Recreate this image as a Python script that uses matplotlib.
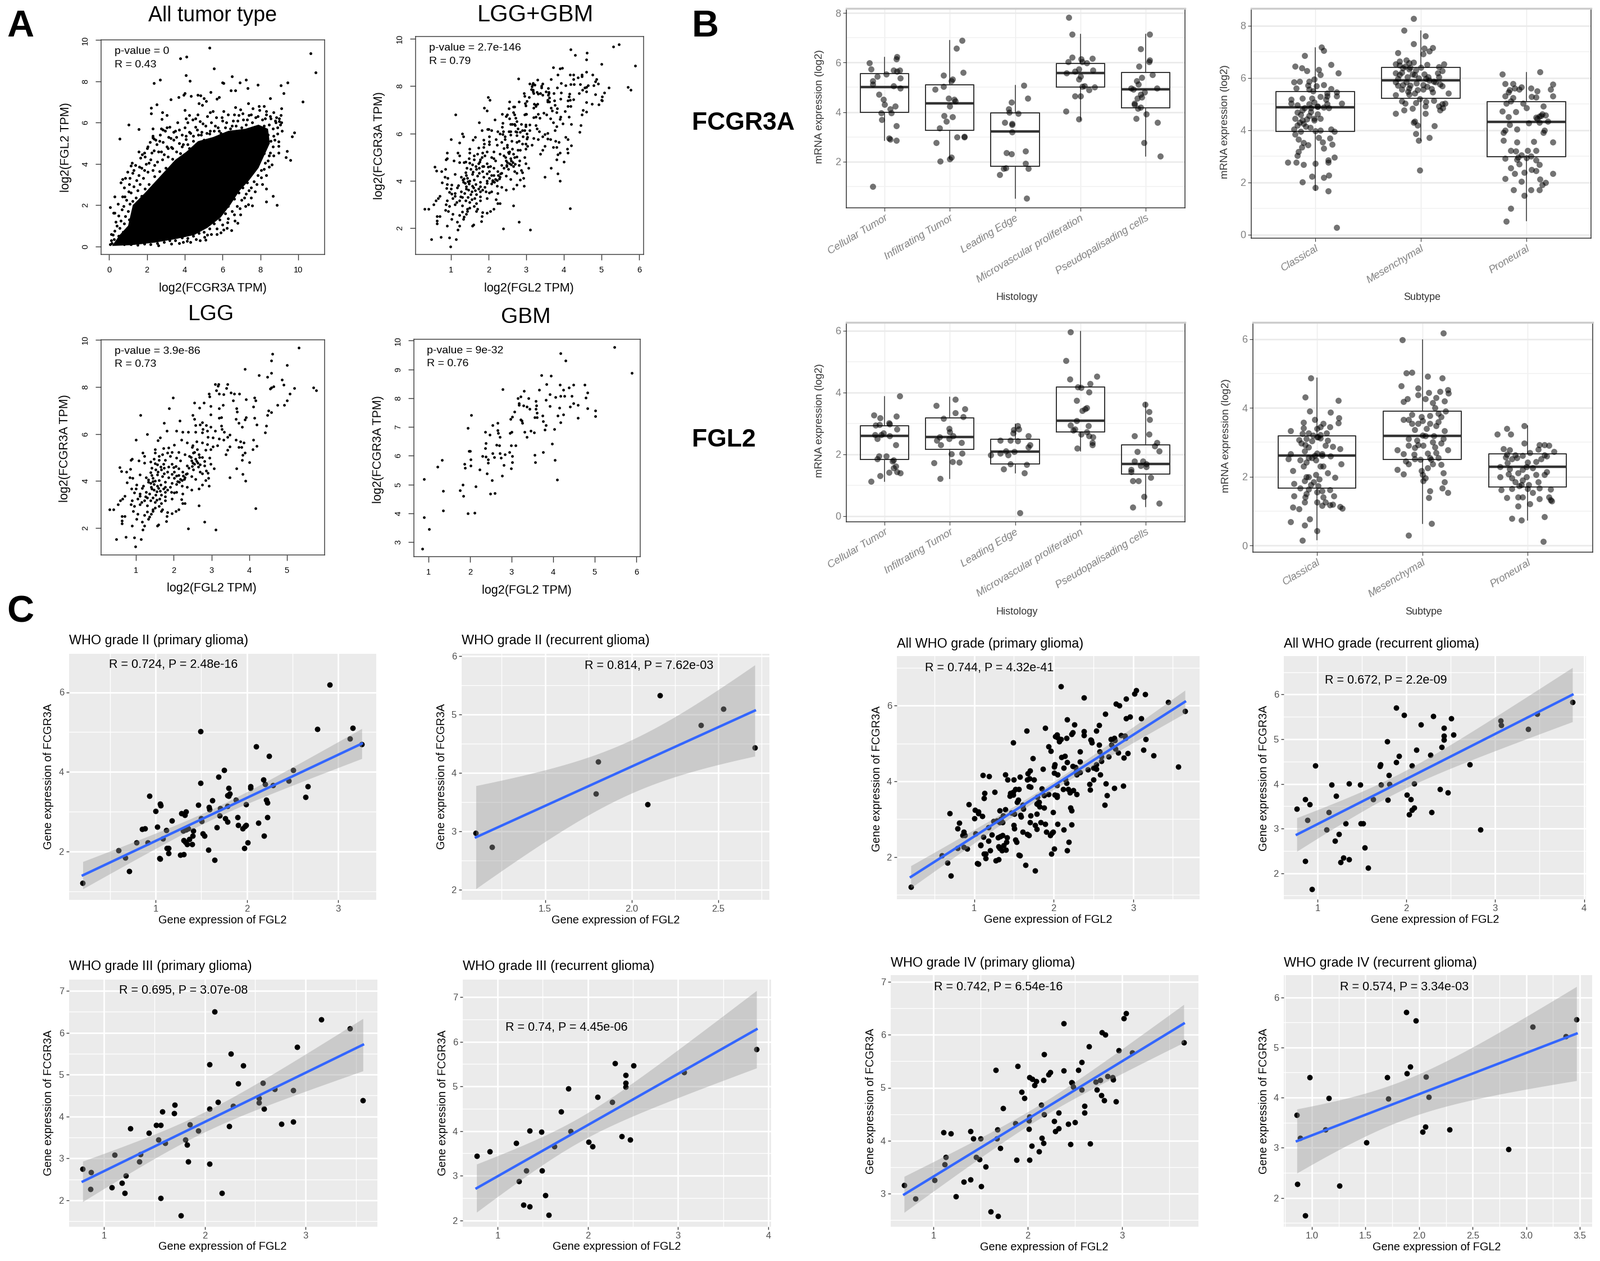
import numpy as np
import matplotlib
matplotlib.use('Agg')
import matplotlib.pyplot as plt
from matplotlib.ticker import MultipleLocator

plt.rcParams['font.family'] = ['Liberation Sans', 'DejaVu Sans']

W, H = 2849, 2245

# --- A: GEPIA scatter values ---
tumor_solid = [(.15,.02),(.55,.55),(1.0,1.0),(1.25,2.0),(1.9,2.6),(2.4,3.1),(3.0,3.7),(3.5,4.2),(4.1,4.6),(4.7,5.1),(5.5,5.3),(6.3,5.6),(7.2,5.7),
    (7.9,5.9),(8.4,5.7),(8.5,5.0),(8.2,4.4),(7.9,3.8),(7.4,3.2),(6.9,2.7),(6.4,2.0),(5.9,1.4),(5.2,.9),(4.5,.55),(3.5,.35),(2.4,.18),(1.2,.06)]
tumor_far = [(5.3,9.63),(10.64,9.35),(10.93,8.42),(4.09,9.2),(3.77,9.12),(5.55,8.61),(4.05,8.29),(4.27,8.03),(2.7,8.09),(2.36,7.91),
    (6.48,8.24),(5.98,7.95),(6.05,7.91),(6.91,7.94),(7.23,8.07),(7.34,7.68),(7.86,7.82),(9.09,7.8),(9.45,7.94),(9.23,7.42),(10.23,7.01),
    (8.5,7.18),(6.43,7.57),(6.66,7.57),(5.36,7.49),(4.0,7.42),(3.95,7.35),(4.68,7.33),(4.84,7.32),(4.34,7.3),(3.66,7.22),(3.27,7.13),
    (5.0,7.18),(5.14,7.03),(5.7,7.16),(5.82,7.23),(4.73,6.92),(4.91,6.84),(2.52,6.89),(2.23,6.71),(2.23,6.45),(2.82,6.5),(3.05,6.35),
    (2.77,6.16),(1.02,5.9),(1.57,5.67),(.55,5.23),(2.32,5.72),(2.3,5.28),(2.36,5.23),(2.75,5.72),(4.0,6.6),(4.05,6.21),(4.23,6.35),
    (4.68,6.4),(5.48,6.55),(6.05,6.55),(6.68,6.74),(6.95,6.64),(7.36,6.94),(7.59,6.69),(7.93,6.79),(8.2,6.79),(8.32,6.55),(9.11,6.69),
    (9.07,6.35),(9.0,6.2),(8.77,6.1),(9.11,6.01),(9.8,5.53),(9.68,5.33),(8.95,5.09),(8.95,4.86),(8.95,4.55),(9.41,4.63),(9.34,4.33),
    (9.59,4.19),(8.59,3.97),(8.5,4.55),(8.32,2.8),(8.66,2.43),(8.32,2.17),(8.86,2.01),(7.57,1.98),(7.36,2.02),(6.8,1.13),(6.45,.78),
    (5.89,.66),(5.09,.32),(4.11,.27),(6.23,.9)]
tumor_edge = [(.05,.1),(.1,.3),(.15,.15),(.2,.55),(.25,.35),(.3,.75),(.12,.6),(.35,1.2),(.28,1.62),(.4,1.0),(.48,.5),(.55,.9),(.6,1.25),
    (.5,1.5),(.68,1.78),(.62,.35),(.72,.7),(.8,1.1),(.75,1.95),(.85,1.45),(.92,2.25),(.95,.85),(1.05,1.3),(1.0,1.7),(.7,2.4),(.78,2.85),
    (.82,2.42),(1.1,2.05),(1.2,1.55),(1.15,2.6),(1.25,2.2),(1.02,2.65),(1.35,1.75),(1.3,2.9),(1.4,2.35),(1.05,3.0),(1.45,3.2),(1.25,3.55),
    (1.5,2.7),(1.55,3.45),(1.38,3.95),(1.62,3.0),(1.7,3.8),(1.72,2.45),(1.65,4.3),(1.8,3.3),(1.9,2.8),(1.95,4.0),(1.85,4.55),(2.05,3.6),
    (2.1,3.0),(2.0,4.75),(2.2,4.2),(2.15,5.05),(2.3,3.7),(2.35,4.65),(2.4,3.4),(2.3,5.35),(2.55,4.1),(2.5,4.95),(2.65,3.65),(2.7,5.4),
    (2.75,4.6),(2.8,4.2),(2.85,5.05),(2.95,5.6),(3.0,3.8),(3.05,4.85),(3.1,4.35),(3.15,5.3),(3.2,5.8),(3.3,4.8),(3.35,4.25),(3.4,5.15),
    (3.5,5.6),(3.55,4.6),(3.6,6.0),(3.7,5.0),(3.75,4.5),(3.85,5.4),(3.9,4.95),(4.0,5.75),(4.05,5.2),(4.15,6.0),(4.25,4.75),(4.3,5.5),
    (4.4,6.15),(4.45,5.1),(4.55,5.8),(4.6,4.95),(4.7,5.4),(4.8,6.05),(4.9,5.55),(5.0,5.15),(5.1,5.85),(5.2,6.3),(5.3,5.45),(5.4,6.0),
    (5.55,5.6),(5.65,6.25),(5.75,5.75),(5.9,5.5),(6.0,6.1),(6.15,5.75),(6.3,6.4),(6.4,5.7),(6.55,6.1),(6.7,5.85),(6.85,6.35),(7.0,5.75),
    (7.1,6.15),(7.25,5.9),(7.4,6.35),(7.55,6.0),(7.7,5.8),(7.85,6.3),(8.0,5.75),(8.1,6.15),(8.2,5.85),(8.3,6.4),(8.45,5.9),(8.55,6.2),
    (8.65,5.7),(8.8,6.0),(8.9,5.75),(9.0,6.05),(8.4,5.4),(8.55,5.1),(8.3,4.85),(8.7,5.35),(8.2,4.5),(8.0,4.9),(8.45,4.4),(7.95,4.2),
    (8.25,4.05),(7.8,3.95),(8.05,3.7),(7.6,3.75),(7.85,3.45),(7.4,3.45),(7.65,3.15),(7.3,3.1),(7.5,2.85),(7.05,2.85),(7.25,2.55),(6.85,2.6),
    (7.0,2.25),(6.6,2.3),(6.75,1.95),(6.3,1.95),(6.5,1.7),(6.15,1.6),(6.3,1.35),(5.85,1.3),(6.0,1.05),(5.55,1.1),(5.7,.85),(5.3,.85),
    (5.0,.7),(5.2,.55),(4.75,.65),(4.45,.5),(4.6,.35),(4.15,.4),(3.85,.42),(3.9,.2),(3.5,.3),(3.2,.28),(3.3,.12),(2.9,.22),(2.55,.15),
    (2.2,.1),(1.85,.12),(1.5,.08),(1.15,.1),(.8,.1)]
tumor_outer = [(.05,1.9),(.22,1.62),(.3,2.42),(.45,2.05),(.6,3.1),(.7,3.25),(.85,3.3),(.98,3.6),(1.2,4.05),(1.15,3.9),(1.3,3.7),(1.1,3.3),(1.55,4.6),
    (1.75,4.45),(1.6,3.85),(1.85,3.7),(1.9,4.35),(2.05,4.85),(2.25,4.55),(2.1,4.05),(2.4,3.95),(2.6,4.6),(2.45,5.15),(2.65,5.1),(2.9,4.45),(3.1,4.75),
    (2.85,5.65),(3.05,5.75),(3.25,5.25),(3.4,5.55),(3.35,4.75),(3.55,5.3),(3.7,5.65),(3.85,4.85),(4.05,5.35),(4.15,4.95),(4.25,5.55),(4.45,5.35),(4.55,6.2),
    (4.65,5.65),(4.85,5.4),(4.95,5.95),(5.15,5.5),(5.35,5.6),(5.35,6.5),(5.6,5.85),(5.8,5.6),(5.95,6.25),(6.2,6.0),(6.5,5.85),(6.6,6.4),(6.8,6.1),(7.05,6.45),
    (7.3,6.15),(7.5,6.4),(7.75,6.25),(7.95,6.6),(8.25,6.2),(8.5,6.3),(8.7,6.5),(8.85,6.25),(9.05,5.9),(9.15,5.6),(8.9,5.45),(8.75,5.15),(8.65,4.85),(8.7,4.4),
    (8.4,4.15),(8.45,3.85),(8.2,3.75),(8.3,3.45),(8.05,3.35),(8.1,3.0),(7.8,3.0),(7.7,2.65),(7.4,2.7),(7.5,2.35),(7.15,2.35),(7.2,1.95),(6.9,1.85),(6.95,1.55),
    (6.6,1.55),(6.65,1.25),(6.25,1.15),(6.05,.8),(5.7,.6),(5.4,.6),(5.05,.45),(4.8,.3),(4.3,.2),(3.7,.15),(2.6,.05)]

lgg_pts = [(5.31,9.67),(4.61,9.41),(4.59,9.11),(5.0,8.92),(3.89,8.75),(4.59,8.6),(4.25,8.49),(4.48,8.42),(4.86,8.3),(4.91,8.09),(5.19,7.94),
    (5.7,7.97),(5.77,7.84),(4.55,7.93),(4.64,8.02),(4.59,7.96),(5.08,7.71),(5.0,7.41),(4.93,7.23),(4.74,7.24),(4.59,6.91),(4.51,6.98),
    (4.48,6.79),(4.45,6.34),(4.42,6.05),(4.2,6.39),(4.14,6.69),(4.11,7.15),(4.17,7.42),(4.14,7.55),(3.91,7.47),(3.91,6.71),(3.89,6.61),
    (3.81,6.3),(3.72,6.46),(3.64,6.63),(3.66,7.08),(3.68,6.95),(3.73,7.7),(3.6,7.7),(3.52,7.76),(3.57,7.41),(3.43,8.11),(3.18,8.12),
    (3.09,8.11),(3.17,8.05),(3.13,7.86),(3.4,7.94),(2.94,7.7),(2.95,7.59),(3.2,7.7),(3.32,7.68),(2.8,7.33),(2.55,7.33),(2.68,7.12),
    (2.98,7.18),(3.2,7.08),(3.3,7.24),(2.5,6.79),(2.55,6.63),(2.98,6.83),(3.2,6.67),(3.26,6.71),(2.16,6.57),(1.98,7.53),(1.88,7.08),
    (1.75,6.46),(1.12,6.79),(1.3,5.98),(1.0,5.76),(2.58,6.38),(2.69,6.4),(2.75,6.5),(2.77,6.21),(2.86,6.38),(2.98,6.3),(2.89,6.13),
    (3.09,6.13),(3.26,6.34),(3.28,6.21),(3.34,6.09),(3.49,5.97),(3.43,5.88),(3.32,5.76),(3.2,5.8),(3.03,5.84),(2.91,5.88),(2.75,6.05),
    (2.58,6.09),(2.39,6.09),(2.24,6.09),(2.07,6.13),(1.82,6.13),(3.64,5.76),(3.77,5.68),(3.86,5.64),(4.11,5.76),(4.19,5.49),(4.09,5.35),
    (3.72,5.43),(3.8,5.43),(3.89,5.19),(3.83,5.1),(3.81,4.9),(4.0,4.8),(3.66,4.53),(3.83,4.3),(3.49,4.16),(3.9,4.0),(4.17,2.84),(3.49,5.47),
    (3.43,5.31),(3.38,5.14),(3.15,5.51),(3.03,5.46),(2.98,5.35),(2.84,5.31),(2.89,5.56),(2.75,5.64),(2.61,5.68),(2.5,5.51),(2.35,5.64),
    (2.2,5.76),(2.01,5.54),(1.86,5.41),(1.73,5.39),(1.64,5.84),(1.58,5.72),(1.5,5.35),(1.18,5.19),(1.22,5.06),(.89,4.94),(.86,4.9),
    (1.07,4.86),(1.22,4.77),(.57,4.58),(.61,4.42),(.75,4.4),(.85,4.5),(1.5,5.19),(1.61,5.06),(1.7,5.14),(1.84,5.19),(1.95,5.23),(2.13,5.23),
    (2.3,5.14),(2.49,5.43),(2.55,5.23),(2.66,5.14),(2.41,5.06),(2.75,5.02),(2.95,4.98),(2.58,4.94),(2.47,4.86),(2.64,4.77),(2.81,4.65),
    (2.98,4.73),(3.06,4.53),(2.86,4.44),(2.69,4.4),(2.52,4.49),(2.35,4.65),(2.18,4.86),(2.07,4.98),(1.9,5.06),(1.78,4.9),(1.61,4.9),
    (1.48,4.94),(1.39,4.81),(1.56,4.69),(1.73,4.73),(1.86,4.61),(1.99,4.58),(2.13,4.53),(2.24,4.4),(2.35,4.32),(2.47,4.2),(2.58,4.07),
    (2.75,4.32),(2.92,4.12),(2.84,4.03),(2.94,3.79),(2.75,3.83),(2.66,3.66),(2.47,3.62),(2.3,4.16),(2.18,4.07),(2.13,4.24),(2.01,4.4),
    (1.84,4.4),(1.67,4.49),(1.52,4.49),(1.39,4.36),(1.27,4.16),(1.41,4.24),(1.56,4.28),(1.7,4.2),(1.86,4.16),(2.01,4.12),(1.95,3.91),
    (1.78,3.95),(1.61,4.03),(1.44,4.12),(1.33,3.95),(1.48,3.87),(1.56,3.79),(1.41,3.66),(1.27,3.54),(1.16,3.7),(1.02,3.83),(1.0,3.66),
    (.84,4.16),(.91,4.12),(.76,3.93),(1.1,4.28),(.875,3.68),(.95,3.51),(1.1,3.46),(1.25,3.33),(1.36,3.46),(1.52,3.42),(1.64,3.58),(1.73,3.66),
    (1.9,3.74),(2.07,3.87),(2.22,3.79),(2.35,3.74),(2.24,3.46),(2.07,3.54),(1.93,3.54),(1.78,3.54),(1.67,3.42),(1.78,3.33),(2.01,3.5),
    (2.24,3.05),(2.3,3.05),(2.2,3.21),(1.95,3.25),(1.78,3.17),(1.67,3.05),(1.5,3.09),(1.39,3.17),(1.22,3.17),(1.05,3.25),(.9,3.17),(.7,3.35),
    (.65,3.25),(.59,3.17),(.53,3.0),(.86,3.0),(.95,2.92),(1.1,3.0),(1.3,2.96),(1.44,2.8),(1.61,2.92),(1.7,2.8),(1.84,2.67),(1.95,2.63),
    (2.13,2.8),(2.05,2.72),(2.66,2.96),(.3,2.8),(.41,2.8),(.63,2.49),(.7,2.49),(.63,2.3),(.63,2.18),(.9,2.1),(1.02,2.39),(1.22,2.55),(1.05,2.59),
    (.93,2.72),(1.35,2.47),(1.33,2.39),(1.16,2.26),(1.22,2.1),(1.18,1.93),(1.56,2.1),(1.59,2.14),(1.44,2.72),(1.67,2.72),(1.82,2.51),(1.81,2.28),
    (.48,1.52),(.73,1.62),(.95,1.6),(.99,1.21),(1.14,1.52),(2.39,1.98),(2.81,2.26),(3.11,1.92),
    (1.32,4.05),(1.38,3.9),(1.45,3.98),(1.5,4.0),(1.4,3.75),(1.47,3.62),(1.55,3.55),(1.6,3.7),(1.65,3.85),(1.78,3.75),(1.83,3.62),(2.1,3.98),(2.15,3.95),
    (2.22,4.02),(2.28,4.08),(2.25,4.22),(2.32,4.3),(2.4,4.55),(2.48,4.62),(2.55,4.72),(2.6,4.85),(2.65,4.6),(2.7,4.7),(2.5,4.78),(2.45,5.0),(2.52,5.2),
    (2.62,5.35),(2.68,5.0),(2.9,4.35),(2.82,4.85),(1.75,4.55),(1.95,4.72),(2.05,4.62),(1.65,4.6),(1.5,4.75),(1.42,4.55),(1.58,4.38),(1.75,4.32),(1.95,4.3),
    (2.07,4.22),(1.2,3.8),(1.1,3.35),(1.3,3.3),(1.45,3.3),(1.55,3.2),(1.62,3.25),(1.15,3.1),(1.3,2.7),(1.4,2.6),(1.5,2.85)]

gbm_pts = [(.845,2.76),(.897,3.85),(.897,5.18),(1.01,3.45),(1.217,5.62),(1.33,5.86),(1.35,4.78),(1.35,4.10),(1.76,4.79),(1.84,4.61),(1.82,4.99),
    (1.87,5.72),(1.88,5.57),(1.95,6.96),(1.95,3.99),(2.03,7.41),(2.01,5.87),(2.01,5.66),(1.97,6.17),(2.0,6.17),(2.11,4.02),(2.13,4.94),(2.23,5.51),
    (2.3,5.99),(2.36,6.27),(2.38,6.44),(2.36,6.82),(2.38,5.97),(2.41,5.38),(2.43,5.88),(2.43,5.75),(2.47,6.73),(2.48,4.67),(2.53,5.15),(2.59,4.69),
    (2.54,7.06),(2.54,6.09),(2.58,5.95),(2.63,6.38),(2.66,7.13),(2.66,6.89),(2.68,6.79),(2.71,6.65),(2.74,5.92),(2.70,6.35),(2.71,6.09),(2.77,5.31),
    (2.81,5.68),(2.79,8.32),(2.84,6.05),(2.95,6.12),(2.97,7.28),(2.99,6.36),(3.09,6.36),(3.0,6.83),(2.96,6.79),(2.99,5.55),(3.01,5.99),(3.02,5.77),
    (3.01,7.36),(3.07,7.53),(3.15,7.99),(3.18,7.83),(3.21,7.25),(3.22,8.06),(3.25,7.21),(3.26,7.14),(3.18,7.77),(3.28,7.74),(3.31,6.82),(3.30,8.26),
    (3.36,6.66),(3.37,7.70),(3.41,8.0),(3.46,6.86),(3.43,7.63),(3.56,7.33),(3.61,7.33),(3.54,6.8),(3.56,6.02),(3.57,5.78),(3.58,7.9),(3.59,7.74),
    (3.58,7.63),(3.61,7.5),(3.66,8.3),(3.72,8.8),(3.74,7.40),(3.76,7.19),(3.76,6.12),(3.82,7.06),(3.8,6.9),(3.82,7.94),(3.84,8.49),(3.95,8.77),
    (3.92,8.13),(3.92,7.73),(3.97,6.42),(4.04,5.85),(4.03,6.93),(4.05,8.04),(4.10,5.17),(4.11,7.4),(4.18,9.56),(4.16,8.47),(4.18,8.08),(4.15,7.67),
    (4.18,7.15),(4.25,8.3),(4.27,8.08),(4.30,9.31),(4.25,7.44),(4.38,8.37),(4.4,7.7),(4.48,8.47),(4.49,7.83),(4.44,8.08),(4.59,7.31),(4.59,7.76),
    (4.76,8.47),(4.79,8.02),(4.83,8.19),(4.83,7.65),(5.02,7.56),(5.02,7.38),(5.47,9.77),(5.89,8.87)]

# --- B: box stats (low whisker, q1, median, q3, high whisker) and jittered points ---
histology = ['Cellular Tumor', 'Infiltrating Tumor', 'Leading Edge', 'Microvascular proliferation', 'Pseudopalisading cells']
subtype = ['Classical', 'Mesenchymal', 'Proneural']

fcgr_hist_box = [(2.87,4.0,5.02,5.56,6.2),(2.14,3.26,4.36,5.1,6.88),(.52,1.83,3.22,3.97,5.09),(3.67,5.02,5.58,5.97,7.15),(2.22,4.17,4.92,5.59,7.13)]
fcgr_sub_box = [(1.7,3.95,4.88,5.48,7.17),(3.62,5.23,5.92,6.41,7.81),(.54,2.98,4.32,5.09,6.22)]
fgl2_hist_box = [(1.12,1.83,2.59,2.93,3.87),(1.22,2.17,2.56,3.18,3.85),(1.39,1.69,2.09,2.48,2.98),(2.11,2.72,3.08,4.18,5.97),(.3,1.37,1.69,2.31,3.66)]
fgl2_sub_box = [(.16,1.67,2.62,3.19,4.86),(.63,2.5,3.19,3.91,5.97),(.74,1.7,2.28,2.67,3.48)]

fcgr_hist_pts = [(.82,1.0),(1.18,2.87),(1.07,2.95),(1.09,2.91),(1.18,3.46),(.96,3.7),(.95,3.96),(1.1,3.96),(1.09,4.12),(1.16,4.24),(1.0,4.32),(.98,4.52),
    (.91,4.72),(1.14,5.05),(1.24,4.97),(.82,5.13),(.82,5.25),(.89,5.45),(1.03,5.53),(1.24,5.37),(1.14,5.69),(1.19,5.65),(1.23,5.69),(.79,5.73),(.77,5.98),
    (1.18,6.14),(1.19,6.24),
    (1.79,2.76),(1.85,2.02),(2.02,2.18),(2.0,2.11),(2.11,2.99),(2.22,3.03),(2.22,2.99),(1.84,3.35),(1.95,3.63),(1.91,3.85),(2.04,3.82),(2.0,4.24),(1.77,4.93),
    (1.9,5.03),(1.98,4.56),(2.08,4.44),(2.07,4.51),(2.02,5.25),(2.04,5.33),(1.9,5.48),(2.2,5.59),(2.1,6.58),(2.19,6.88),
    (3.18,.52),(2.76,1.49),(2.82,1.73),(2.86,1.75),(3.16,1.94),(3.2,1.73),(2.87,2.36),(2.94,2.32),(3.16,2.44),(2.95,3.19),(2.84,3.59),(2.95,3.55),(2.95,3.5),
    (2.9,4.12),(2.91,4.0),(3.05,3.94),(2.94,4.4),(3.19,4.56),(3.13,5.09),
    (3.98,3.73),(3.78,4.04),(3.92,4.64),(4.0,4.64),(4.06,5.05),(4.03,5.03),(4.13,4.89),(4.22,5.01),(3.98,5.33),(4.0,5.45),(3.79,5.57),(3.92,5.65),(4.19,5.69),
    (3.81,6.02),(4.1,5.98),(4.18,6.16),(4.01,6.14),(3.87,6.2),(4.03,6.02),(3.98,5.73),(3.87,7.15),(3.82,7.81),
    (5.22,2.22),(4.97,2.77),(4.85,3.74),(5.18,3.59),(5.01,3.92),(4.88,4.16),(4.92,4.2),(4.83,4.32),(4.83,4.36),(4.87,4.56),(4.94,4.6),(4.92,4.72),(4.81,4.93),
    (4.98,4.8),(5.17,4.97),(4.89,5.13),(4.86,5.25),(4.78,4.97),(4.94,5.39),(5.1,5.52),(4.9,5.86),(5.06,6.1),(5.05,6.03),(4.92,6.54),(5.06,7.13)]

fcgr_sub_pts = [(1.2,.27),(1.12,1.68),(1.0,1.81),(.88,2.02),(1.08,2.19),(.97,2.23),(1.13,2.28),(.74,2.77),(.82,2.78),(.89,2.68),(1.0,2.73),(1.12,2.77),(1.12,2.85),
    (1.18,2.96),(.83,3.04),(.84,3.19),(.87,3.36),(.89,3.52),(1.08,3.31),(1.16,3.46),(1.03,3.73),(.84,3.65),(.81,3.85),(1.05,4.0),(1.15,4.04),(1.18,3.96),(.83,4.19),
    (.91,4.15),(.85,4.31),(.88,4.38),(.99,4.38),(.81,4.46),(.94,4.55),(.99,4.46),(.83,4.69),(.88,4.77),(1.02,4.62),(.83,4.96),(.94,5.0),(1.02,4.92),(1.11,5.0),
    (1.25,5.04),(.77,5.04),(.77,5.19),(.88,5.23),(.97,5.23),(.99,5.08),(1.2,5.46),(1.11,5.42),(1.11,5.31),(1.2,5.31),(.82,5.62),(.94,5.58),(1.01,5.69),(.85,5.88),
    (.8,5.86),(1.05,6.12),(.94,5.88),(.99,5.96),(1.22,6.19),(1.03,6.32),(.92,6.29),(.81,6.45),(.87,6.38),(1.15,6.52),(.9,6.85),(1.08,7.05),(1.06,7.18),
    (.9,4.85),(.96,4.85),(1.02,4.9),(1.08,4.88),(1.13,4.85),(.86,4.6),(.92,4.42),(.96,4.7),(1.05,4.45),(.8,4.05),(.89,4.25),(.95,4.1),(1.1,5.18),(1.05,5.3),(.98,5.5),
    (.93,5.72),(1.08,5.75),(1.15,5.6),(1.0,3.98),(1.14,3.7),(.86,3.95),(.93,3.45),(1.07,3.55),
    (1.99,2.48),(1.98,3.62),(2.08,3.73),(1.95,3.88),(2.13,4.18),(1.97,4.19),(1.93,4.31),(1.94,4.35),(2.04,4.65),(1.76,4.65),(1.84,4.77),(1.92,4.83),(2.04,4.92),
    (2.18,4.78),(2.21,4.85),(2.17,4.92),(1.85,5.04),(1.82,5.12),(2.2,5.0),(2.23,5.04),(1.76,5.35),(1.89,5.38),(1.94,5.42),(2.11,5.46),(2.26,5.41),(1.82,5.58),
    (1.89,5.62),(2.02,5.58),(2.2,5.69),(2.18,5.77),(1.78,5.73),(1.76,5.85),(1.86,5.85),(2.08,5.92),(2.17,6.04),(1.94,6.12),(2.03,6.15),(1.8,6.12),(1.76,6.19),
    (1.89,6.35),(1.83,6.38),(2.2,6.27),(2.06,6.52),(2.22,6.54),(2.17,6.42),(1.76,6.54),(1.8,6.65),(1.86,6.69),(1.89,6.58),(1.78,6.96),(2.02,6.92),(2.08,7.04),
    (2.03,7.15),(2.11,7.17),(1.93,7.31),(2.04,7.62),(1.84,7.83),(1.93,8.27),
    (1.8,6.5),(1.85,6.45),(1.9,6.4),(1.95,6.3),(1.82,6.22),(1.87,6.05),(1.92,6.15),(1.98,6.0),(2.05,5.98),(2.12,5.88),(2.07,6.05),(1.78,5.98),(1.83,5.75),(1.9,5.72),
    (1.96,5.8),(2.02,5.75),(2.1,5.6),(1.88,5.48),(1.97,5.55),(2.06,5.68),(2.14,5.85),(2.16,6.2),(2.0,6.4),(1.93,6.6),(1.99,5.2),(1.95,5.06),(2.12,5.15),(2.05,5.1),
    (2.81,.52),(2.85,1.02),(2.98,1.5),(2.88,1.73),(3.04,1.73),(3.12,1.73),(3.15,1.92),(2.8,2.15),(2.89,2.35),(2.98,2.38),(3.25,2.35),(3.09,2.45),(3.12,2.69),
    (3.13,2.12),(3.09,2.85),(2.8,2.92),(2.92,2.96),(2.91,2.88),(3.04,3.0),(2.85,3.23),(3.01,3.23),(3.09,3.23),(3.25,3.54),(3.07,3.58),(2.78,3.62),(2.91,3.54),
    (2.78,3.92),(2.8,4.0),(2.91,4.04),(3.16,3.92),(3.17,4.0),(2.84,4.21),(3.12,4.31),(3.2,4.35),(2.77,4.73),(2.83,4.52),(3.12,4.54),(3.15,4.62),(3.09,4.5),
    (3.0,4.85),(3.16,4.92),(2.81,5.04),(2.97,5.04),(2.85,5.12),(3.09,5.27),(3.25,5.32),(2.83,5.46),(2.8,5.31),(2.93,5.58),(2.84,5.54),(2.95,5.65),(3.04,5.62),
    (3.25,5.77),(3.23,5.58),(2.8,5.78),(2.87,5.78),(2.89,5.62),(2.77,6.15),(3.13,6.23),
    (3.1,4.45),(3.14,4.55),(3.18,4.58),(3.02,4.28),(2.9,4.7),(2.87,5.25),(3.05,5.3),(2.9,3.2),(2.95,3.05),(3.0,2.95),(2.93,2.7),(3.05,2.5),(2.85,2.55),(3.18,2.0),(2.95,2.05),(3.1,5.5)]

fgl2_hist_pts = [(.79,1.13),(.93,1.3),(1.07,1.41),(1.17,1.62),(1.14,1.56),(1.24,1.39),(1.19,1.43),(.89,1.85),(.91,1.95),(1.03,1.95),(1.12,1.78),(1.14,1.82),(1.17,2.3),
    (.89,2.5),(.85,2.63),(.95,2.63),(.98,2.69),(1.08,2.59),(1.19,2.82),(.86,2.95),(.92,2.96),(1.08,2.98),(1.07,3.02),(.93,3.18),(.84,3.26),(1.18,3.24),(1.23,3.88),
    (1.85,1.22),(1.76,1.72),(2.04,1.76),(2.14,1.75),(2.19,2.04),(2.02,2.01),(1.86,2.3),(2.18,2.37),(1.8,2.46),(1.99,2.5),(2.05,2.59),(1.84,2.56),(1.99,2.84),(2.0,2.72),
    (1.9,3.16),(2.2,3.21),(2.08,3.34),(2.23,3.47),(1.79,3.57),(2.08,3.78),
    (3.07,.11),(3.14,1.39),(2.82,1.52),(2.93,1.69),(3.18,1.67),(2.63,1.98),(2.89,1.98),(2.99,2.09),(2.86,2.11),(2.77,2.04),(3.2,2.24),(3.23,2.3),(2.77,2.46),(2.93,2.46),
    (3.04,2.44),(3.2,2.59),(2.97,2.69),(2.98,2.79),(3.04,2.92),(3.06,2.82),
    (3.95,2.2),(4.18,2.3),(4.18,2.37),(4.19,2.56),(4.13,2.59),(4.01,2.66),(3.89,2.77),(3.92,2.81),(4.1,2.72),(4.12,2.92),(3.85,2.95),(3.94,3.08),(4.03,3.42),(4.1,3.5),
    (4.07,3.47),(3.94,3.74),(4.13,4.02),(3.96,4.18),(4.01,4.15),(4.15,4.28),(3.84,4.44),(4.25,4.53),(3.78,5.03),(3.85,5.96),
    (4.8,.29),(5.21,.42),(4.97,.63),(4.8,1.15),(4.89,1.15),(5.08,1.25),(4.78,1.43),(4.78,1.51),(5.01,1.59),(5.01,1.69),(4.96,1.78),(4.83,1.78),(4.92,1.64),(4.87,2.09),
    (5.21,2.11),(5.14,2.27),(5.17,2.37),(4.83,2.59),(5.05,2.65),(5.06,3.13),(5.05,3.38),(4.99,3.62)]

fgl2_sub_pts = [(.86,.14),(1.0,.43),(.75,.69),(.93,.76),(.88,.59),(.77,1.11),(.83,1.06),(1.22,1.13),(1.24,1.07),(1.05,1.16),(1.12,1.18),(.88,1.25),(1.0,1.25),(.78,1.44),
    (.89,1.41),(1.06,1.4),(1.16,1.44),(1.05,1.58),(1.12,1.61),(.84,1.67),(.92,1.64),(1.01,1.73),(.78,1.79),(.88,1.88),(.94,1.76),(1.02,1.93),(1.17,1.98),(.92,1.99),(.99,2.05),
    (.77,2.17),(1.06,2.3),(1.23,2.37),(.87,2.31),(.84,2.49),(.92,2.55),(.99,2.49),(.73,2.52),(1.05,2.66),(1.13,2.6),(.75,2.66),(1.22,2.81),(.88,2.75),(1.15,2.87),(.89,2.92),
    (.85,2.98),(1.01,3.16),(.83,3.07),(.95,3.04),(1.03,3.21),(.75,3.33),(.92,3.27),(1.09,3.27),(.87,3.42),(1.0,3.39),(1.12,3.45),(.87,3.58),(.98,3.65),(1.06,3.54),(1.21,3.71),
    (1.2,3.56),(1.13,3.87),(.93,3.9),(.89,4.31),(1.2,4.22),(.94,4.86),
    (.9,3.1),(1.0,3.15),(1.03,3.12),(.96,3.2),(.92,2.85),(1.08,2.9),(.95,2.55),(.98,2.62),(1.0,2.68),(1.05,2.62),(.9,2.42),(1.1,2.1),(1.03,2.3),(.9,2.0),(.97,1.85),(1.0,1.55),
    (.9,1.5),(1.08,1.25),(1.15,1.2),(1.1,3.05),(.86,3.25),(1.03,3.45),
    (1.87,.3),(2.09,.63),(2.06,1.38),(2.07,1.58),(2.24,1.53),(2.19,1.67),(2.21,1.85),(2.01,1.88),(2.03,1.96),(2.0,2.05),(2.2,2.11),(1.76,2.21),(1.82,2.08),(1.99,2.17),(1.87,2.37),
    (2.1,2.37),(2.15,2.55),(2.07,2.55),(1.93,2.52),(1.76,2.78),(1.82,2.66),(1.93,2.84),(2.13,2.69),(2.24,2.78),(2.01,2.9),(1.87,2.9),(2.18,2.98),(1.96,2.92),(1.87,3.1),(2.11,3.19),
    (2.21,3.33),(1.93,3.36),(2.04,3.39),(1.9,3.54),(1.82,3.65),(2.13,3.48),(1.87,3.65),(1.99,3.74),(2.07,3.77),(2.18,3.74),(2.15,3.83),(1.9,3.8),(2.1,4.15),(2.03,4.26),(1.82,4.18),
    (1.86,4.26),(2.21,4.2),(1.96,4.38),(2.13,4.29),(2.17,4.47),(2.24,4.53),(1.96,4.58),(2.06,4.44),(1.8,4.64),(2.19,4.86),(2.05,4.92),(1.85,5.01),(1.9,5.03),(1.81,5.97),(2.2,6.17),
    (2.0,3.2),(2.03,3.18),(1.95,3.05),(2.1,3.0),(2.12,2.85),(2.05,2.68),(1.92,2.65),(2.08,2.5),(1.98,2.5),(1.96,3.55),(2.07,3.55),(2.2,3.1),(2.18,2.35),(2.0,3.62),(1.84,2.45),(2.15,3.6),
    (2.22,3.9),(2.12,4.0),(2.25,4.42),(2.05,2.25),
    (3.15,.12),(2.85,.78),(2.94,.74),(3.16,.83),(2.91,1.15),(3.02,1.21),(3.23,1.29),(3.11,1.35),(3.22,1.32),(2.95,1.41),(2.8,1.38),(2.91,1.41),(3.05,1.53),(2.75,1.61),(3.11,1.67),
    (3.22,1.64),(2.92,1.73),(3.01,1.76),(2.94,1.77),(2.74,1.99),(2.85,1.96),(2.99,1.99),(3.08,2.05),(3.16,2.05),(2.91,2.11),(2.83,2.22),(2.74,2.28),(2.99,2.28),(3.18,2.14),(2.81,2.4),
    (3.08,2.43),(2.85,2.52),(3.13,2.52),(2.79,2.57),(2.88,2.63),(3.25,2.72),(3.02,2.69),(3.16,2.63),(2.77,2.81),(2.83,2.78),(3.11,2.92),(3.16,2.92),(2.97,2.98),(2.71,3.24),(2.84,3.23),
    (2.8,3.4),(2.97,3.48),
    (2.9,2.55),(2.95,2.62),(2.8,2.65),(3.0,2.42),(3.05,2.25),(2.95,2.2),(2.88,1.85),(2.95,1.9),(3.1,1.85),(3.2,1.4),(3.0,1.65),(2.85,1.65),(3.18,2.6),(3.1,2.8),(3.2,2.9),(2.82,2.08)]

# --- C: FGL2 vs FCGR3A by grade ---
g2_primary = [(.203,1.205),(.593,2.035),(.665,1.84),(.709,1.507),(.791,2.226),(.912,2.22),(.852,2.57),(.885,2.58),(.934,3.39),(1.0,3.02),(1.05,3.2),(1.055,3.15),(1.016,2.62),
    (1.115,2.53),(1.08,2.32),(1.04,1.83),(1.05,1.81),(1.126,2.09),(1.143,2.09),(1.143,1.96),(1.18,2.78),(1.27,1.91),(1.31,1.93),(1.286,2.96),(1.32,2.92),(1.335,3.0),(1.3,2.52),
    (1.33,2.55),(1.357,2.58),(1.31,2.28),(1.324,2.24),(1.346,2.18),(1.368,2.31),(1.40,2.19),(1.407,2.39),(1.41,2.52),(1.467,3.17),(1.49,3.72),(1.49,5.02),(1.5,2.835),(1.505,2.76),
    (1.516,2.45),(1.533,2.40),(1.577,2.045),(1.582,3.11),(1.593,3.06),(1.62,3.28),(1.648,1.79),(1.67,2.60),(1.687,3.87),(1.70,2.91),(1.71,3.09),(1.753,4.04),(1.764,2.835),(1.786,2.745),
    (1.786,3.14),(1.797,3.59),(1.79,3.41),(1.813,3.45),(1.80,3.39),(1.88,3.30),(1.896,2.865),(1.907,2.66),(1.956,2.58),(1.99,2.67),(1.978,2.64),(1.99,3.18),(1.973,2.08),(2.01,2.22),
    (2.04,3.63),(2.04,3.59),(2.10,4.64),(2.126,2.72),(2.18,3.80),(2.187,2.40),(2.21,3.30),(2.225,3.23),(2.203,3.70),(2.225,2.86),(2.24,4.405),(2.286,3.66),(2.46,3.78),(2.505,4.04),
    (2.643,3.37),(2.67,3.63),(2.77,5.08),(2.91,6.19),(3.13,4.83),(3.16,5.11),(3.26,4.69)]
g2_recurrent = [(1.101,2.97),(1.194,2.725),(1.792,3.646),(1.806,4.19),(2.09,3.46),(2.162,5.33),(2.399,4.82),(2.529,5.10),(2.711,4.43)]
g3_primary = [(.79,2.754),(.87,2.667),(.866,2.27),(1.08,2.31),(1.104,3.08),(1.18,2.42),(1.204,2.174),(1.22,2.585),(1.26,3.72),(1.353,2.92),(1.363,3.10),(1.448,3.61),(1.517,3.80),(1.56,3.80),
    (1.542,3.45),(1.562,2.06),(1.577,4.12),(1.61,3.37),(1.697,4.08),(1.70,4.28),(1.766,1.64),(1.806,3.45),(1.826,3.33),(1.836,2.92),(1.85,3.81),(1.935,3.66),(2.045,5.24),(2.05,4.18),
    (2.05,2.866),(2.095,6.51),(2.13,4.35),(2.17,2.17),(2.244,3.77),(2.26,5.50),(2.284,4.25),(2.33,4.785),(2.383,5.22),(2.537,4.44),(2.537,4.33),(2.577,4.795),(2.587,4.18),(2.696,4.65),
    (2.76,3.82),(2.876,3.876),(2.88,4.63),(2.915,5.66),(3.154,6.31),(3.44,6.10),(3.57,4.38)]
g3_recurrent = [(.767,3.446),(.911,3.537),(1.206,3.727),(1.239,2.875),(1.289,2.345),(1.317,3.11),(1.356,4.01),(1.356,2.31),(1.483,3.976),(1.489,3.12),(1.528,2.567),(1.567,2.118),(1.628,3.65),
    (1.706,4.434),(1.783,4.947),(1.811,4.0),(2.006,3.75),(2.05,3.655),(2.11,4.76),(2.272,4.643),(2.30,5.51),(2.378,3.88),(2.42,5.25),(2.42,5.07),(2.42,4.99),(2.467,3.81),(2.506,5.46),
    (3.067,5.31),(3.87,5.83)]
g4_primary = [(.69,3.16),(.81,2.90),(1.01,3.25),(1.106,4.16),(1.186,4.14),(1.12,3.55),(1.133,3.69),(1.24,2.95),(1.32,3.226),(1.39,3.264),(1.39,4.18),(1.42,4.04),(1.452,3.69),(1.49,3.65),(1.5,4.04),
    (1.505,3.14),(1.553,3.505),(1.61,2.66),(1.686,2.58),(1.66,5.336),(1.676,4.205),(1.67,4.04),(1.707,3.857),(1.74,4.61),(1.867,4.327),(1.878,3.635),(1.894,5.405),(1.936,4.92),(1.963,4.80),
    (2.01,4.22),(2.016,4.45),(2.01,4.384),(2.016,3.64),(2.02,5.195),(2.04,3.90),(2.05,5.16),(2.09,5.12),(2.07,5.05),(2.117,3.80),(2.14,4.675),(2.15,4.05),(2.165,3.96),(2.17,4.50),(2.17,5.63),
    (2.165,5.14),(2.223,5.25),(2.24,5.29),(2.277,4.37),(2.29,4.18),(2.33,4.235),(2.33,4.525),(2.378,5.32),(2.383,6.21),(2.43,4.32),(2.452,3.93),(2.463,5.10),(2.473,5.09),(2.48,5.02),(2.5,4.35),
    (2.537,5.336),(2.57,4.966),(2.57,5.48),(2.6,4.656),(2.6,4.53),(2.65,5.776),(2.66,3.94),(2.72,5.11),(2.73,4.96),(2.766,5.14),(2.78,4.855),(2.787,6.05),(2.81,4.76),(2.824,6.0),(2.846,5.22),
    (2.904,5.15),(2.9,5.2),(2.936,4.74),(2.963,5.71),(3.016,6.315),(3.04,6.41),(3.106,5.665),(3.654,5.85)]
g4_recurrent = [(.86,3.655),(.888,3.195),(.864,2.27),(.935,1.645),(.977,4.406),(1.126,3.364),(1.159,3.986),(1.257,2.246),(1.509,3.11),(1.70,4.40),(1.715,3.98),(1.883,5.70),(1.888,4.486),
    (1.916,4.62),(1.972,5.54),(2.033,3.32),(2.06,3.42),(2.065,4.41),(2.089,4.01),(2.285,3.364),(2.836,2.97),(3.06,5.41),(3.37,5.22),(3.47,5.56)]
all_primary = g2_primary + g3_primary + g4_primary
all_recurrent = g2_recurrent + g3_recurrent + g4_recurrent

fig = plt.figure(figsize=(W / 100, H / 100), dpi=100, facecolor='white')


def T(x, y, s, **kw):
    kw.setdefault('ha', 'center')
    kw.setdefault('va', 'center')
    return fig.text(x / W, 1 - y / H, s, **kw)


def add_box(l, t, r, b):
    return fig.add_axes([l / W, 1 - b / H, (r - l) / W, (b - t) / H])


def lim(lo, hi, p0, v0, p1, v1):
    # axis limits from two tick positions measured on the picture
    k = (v1 - v0) / (p1 - p0)
    return v0 + (lo - p0) * k, v0 + (hi - p0) * k


def gepia(box, xcal, ycal, xticks, yticks, title, title_at, title_size, xlab, xlab_at, ylab, ylab_at, stats, stats_at, pts=None):
    l, t, r, b = box
    ax = add_box(l, t, r, b)
    if pts is not None:
        p = np.array(pts)
        ax.scatter(p[:, 0], p[:, 1], s=12, c='black', lw=0)
    ax.set_xlim(*lim(l, r, *xcal))
    ax.set_ylim(*lim(b, t, *ycal))
    ax.set_xticks(xticks)
    ax.set_yticks(yticks)
    ax.tick_params(length=7, width=1, pad=8, labelsize=10.5, color='#333333')
    ax.tick_params(axis='y', labelrotation=90)
    plt.setp(ax.get_yticklabels(), va='center')
    for s in ax.spines.values():
        s.set_linewidth(1.1)
        s.set_color('#444444')
    T(*title_at, title, fontsize=title_size)
    T(*xlab_at, xlab, fontsize=15.5)
    T(*ylab_at, ylab, fontsize=15.5, rotation=90)
    T(stats_at[0], stats_at[1], stats[0], fontsize=14, ha='left')
    T(stats_at[0], stats_at[2], stats[1], fontsize=14, ha='left')
    return ax


ax = gepia((180, 71, 578, 453), (194.4, 0, 531, 10), (438.6, 0, 71.4, 10), range(0, 11, 2), range(0, 11, 2),
           'All tumor type', (379, 28), 27, 'log2(FCGR3A TPM)', (379, 513), 'log2(FGL2 TPM)', (117, 262),
           ('p-value = 0', 'R = 0.43'), (204, 92, 115))
solid = np.array(tumor_solid)
ax.fill(solid[:, 0], solid[:, 1], color='black', lw=0)
p = np.array(tumor_far + tumor_edge + tumor_outer)
ax.scatter(p[:, 0], p[:, 1], s=13, c='black', lw=0)

gepia((740, 65, 1146, 453), (803, 1, 1138, 6), (406, 2, 69, 10), range(1, 7), range(2, 11, 2),
      'LGG+GBM', (953, 27), 30, 'log2(FGL2 TPM)', (942, 514), 'log2(FCGR3A TPM)', (676, 259),
      ('p-value = 2.7e-146', 'R = 0.79'), (764, 86, 109), lgg_pts + gbm_pts)
gepia((180, 605, 578, 988), (242, 1, 511, 5), (940, 2, 605, 10), range(1, 6), range(2, 11, 2),
      'LGG', (376, 560), 28, 'log2(FGL2 TPM)', (377, 1047), 'log2(FCGR3A TPM)', (115, 798),
      ('p-value = 3.9e-86', 'R = 0.73'), (204, 626, 649), lgg_pts)
gepia((737, 604, 1140, 991), (763, 1, 1133, 6), (965, 3, 606.5, 10), range(1, 7), range(3, 11),
      'GBM', (936, 565), 28, 'log2(FGL2 TPM)', (938, 1052), 'log2(FCGR3A TPM)', (673, 800),
      ('p-value = 9e-32', 'R = 0.76'), (760, 625, 648), gbm_pts)


def boxes(box, ycal, yticks, ymin_step, cats, stats, pts, xpx, label, label_at):
    l, t, r, b = box
    ax = add_box(l, t, r, b)
    n = len(cats)
    step = (xpx[1] - xpx[0]) / (n - 1)
    ax.set_xlim((l - xpx[0]) / step + 1, (r - xpx[0]) / step + 1)
    ax.set_ylim(*lim(b, t, *ycal))
    ax.yaxis.set_minor_locator(MultipleLocator(ymin_step))
    ax.grid(axis='y', which='major', color='#ebebeb', lw=2, zorder=0)
    ax.grid(axis='y', which='minor', color='#f2f2f2', lw=1.2, zorder=0)
    ax.grid(axis='x', which='major', color='#ebebeb', lw=1, zorder=0)
    ax.set_axisbelow(True)
    bxp_stats = [dict(whislo=s[0], q1=s[1], med=s[2], q3=s[3], whishi=s[4]) for s in stats]
    ax.bxp(bxp_stats, positions=range(1, n + 1), widths=0.74, showfliers=False, showcaps=False,
           boxprops=dict(color='#333333', lw=1.4), whiskerprops=dict(color='#333333', lw=1.1),
           medianprops=dict(color='#333333', lw=3.2, solid_capstyle='butt'), manage_ticks=False)
    q = np.array(pts)
    ax.scatter(q[:, 0], q[:, 1], s=62, c='black', alpha=0.55, lw=0, zorder=3)
    ax.set_xticks(range(1, n + 1))
    ax.set_xticklabels(cats, rotation=31, ha='right', va='top', rotation_mode='anchor', style='italic', fontsize=13.5)
    ax.set_yticks(yticks)
    ax.tick_params(axis='y', which='minor', length=0)
    ax.tick_params(labelsize=13, labelcolor='#808080', color='#333333', length=4, pad=3)
    plt.setp(ax.get_xticklabels(), fontsize=13.5)
    for k in ('left', 'right', 'bottom'):
        ax.spines[k].set_color('#333333')
        ax.spines[k].set_linewidth(1.1)
    ax.spines['top'].set_color('#cccccc')
    ax.spines['top'].set_linewidth(2.5)
    T(*label_at, label, fontsize=13, color='#333333')
    T(l - 47, (t + b) / 2 - 3, 'mRNA expression (log2)', fontsize=13.5, color='#333333', rotation=90)


boxes((1507, 15, 2110, 370), (288, 2, 23, 8), [2, 4, 6, 8], 1, histology, fcgr_hist_box, fcgr_hist_pts, (1575, 2040), 'Histology', (1811, 530))
boxes((2228, 15, 2833, 424), (418, 0, 46, 8), [0, 2, 4, 6, 8], 1, subtype, fcgr_sub_box, fcgr_sub_pts, (2342, 2718), 'Subtype', (2532, 530))
boxes((1507, 574, 2110, 929), (919, 0, 588.6, 6), [0, 2, 4, 6], 1, histology, fgl2_hist_box, fgl2_hist_pts, (1575, 2040), 'Histology', (1811, 1090))
boxes((2231, 574, 2836, 983), (971, 0, 603.6, 6), [0, 2, 4, 6], 1, subtype, fgl2_sub_box, fgl2_sub_pts, (2345, 2720), 'Subtype', (2535, 1089))


def fit_panel(box, xcal, ycal, xticks, yticks, pts, title, title_x, title_y, stat, stat_at, xlab_at, ylab_at):
    l, t, r, b = box
    ax = add_box(l, t, r, b)
    ax.set_facecolor('#ebebeb')
    q = np.array(pts)
    x, y = q[:, 0], q[:, 1]
    ax.scatter(x, y, s=50, c='black', lw=0, zorder=3)
    # lm smooth with 95% band, as geom_smooth does it
    b1, b0 = np.polyfit(x, y, 1)
    xs = np.linspace(x.min(), x.max(), 80)
    fit = b0 + b1 * xs
    n = len(x)
    s = np.sqrt(((y - b0 - b1 * x) ** 2).sum() / (n - 2))
    tval = 1.96 + 2.8 / (n - 2)
    se = s * np.sqrt(1 / n + (xs - x.mean()) ** 2 / ((x - x.mean()) ** 2).sum())
    ax.fill_between(xs, fit - tval * se, fit + tval * se, color='#999999', alpha=0.4, lw=0, zorder=4)
    ax.plot(xs, fit, color='#3366FF', lw=3.2, zorder=5)
    ax.set_xlim(*lim(l, r, *xcal))
    ax.set_ylim(*lim(b, t, *ycal))
    ax.set_xticks(xticks)
    ax.set_yticks(yticks)
    if isinstance(xticks[0], float):
        ax.set_xticklabels([f'{v:.1f}' for v in xticks])
    ax.xaxis.set_minor_locator(MultipleLocator((xticks[1] - xticks[0]) / 2))
    ax.yaxis.set_minor_locator(MultipleLocator((yticks[1] - yticks[0]) / 2))
    ax.grid(which='major', color='white', lw=2, zorder=1)
    ax.grid(which='minor', color='white', lw=1, zorder=1)
    ax.set_axisbelow(True)
    ax.tick_params(which='minor', length=0)
    ax.tick_params(length=3.5, width=1, pad=3, labelsize=12, labelcolor='#4d4d4d', color='#333333')
    for sp in ax.spines.values():
        sp.set_visible(False)
    T(title_x, title_y, title, fontsize=16.8, ha='left')
    T(*stat_at, stat, fontsize=15.5)
    T(*xlab_at, 'Gene expression of FGL2', fontsize=14.3)
    T(*ylab_at, 'Gene expression of FCGR3A', fontsize=14.3, rotation=90)


fit_panel((123, 1164, 670, 1602), (277, 1, 602, 3), (1516, 2, 1232.5, 6), [1, 2, 3], [2, 4, 6], g2_primary,
          'WHO grade II (primary glioma)', 123, 1141, 'R = 0.724, P = 2.48e-16', (309, 1184), (396, 1639), (87, 1382))
fit_panel((822, 1164, 1370, 1602), (970.5, 1.5, 1279, 2.5), (1583.6, 2, 1168, 6), [1.5, 2.0, 2.5], [2, 3, 4, 5, 6], g2_recurrent,
          'WHO grade II (recurrent glioma)', 822, 1141, 'R = 0.814, P = 7.62e-03', (1156, 1186), (1096, 1639), (787, 1382))
fit_panel((1597, 1168, 2136, 1601), (1734.6, 1, 2017.5, 3), (1525.7, 2, 1256.4, 6), [1, 2, 3], [2, 4, 6], all_primary,
          'All WHO grade (primary glioma)', 1597, 1146, 'R = 0.744, P = 4.32e-41', (1762, 1189), (1866, 1637.5), (1561.5, 1386))
fit_panel((2286, 1168, 2824, 1601), (2346, 1, 2820.5, 4), (1554.6, 2, 1236.4, 6), [1, 2, 3, 4], [2, 3, 4, 5, 6], all_recurrent,
          'All WHO grade (recurrent glioma)', 2286, 1146, 'R = 0.672, P = 2.2e-09', (2468, 1211), (2555, 1637.5), (2251, 1385))
fit_panel((123, 1744, 672, 2184), (185, 1, 544, 3), (2137, 2, 1764, 7), [1, 2, 3], [2, 3, 4, 5, 6, 7], g3_primary,
          'WHO grade III (primary glioma)', 123, 1720, 'R = 0.695, P = 3.07e-08', (327, 1764), (396, 2219.5), (87, 1963))
fit_panel((824, 1744, 1373, 2184), (886, 1, 1368, 4), (2172.6, 2, 1775, 7), [1, 2, 3, 4], [2, 3, 4, 5, 6, 7], g3_recurrent,
          'WHO grade III (recurrent glioma)', 824, 1720, 'R = 0.74, P = 4.45e-06', (1009, 1829), (1098, 2219.5), (789, 1963))
fit_panel((1586, 1736, 2134, 2184), (1662, 1, 1998, 3), (2125, 3, 1748, 7), [1, 2, 3], [3, 4, 5, 6, 7], g4_primary,
          'WHO grade IV (primary glioma)', 1586, 1714, 'R = 0.742, P = 6.54e-16', (1778, 1758), (1859, 2220.5), (1550, 1960))
fit_panel((2286, 1736, 2835, 2184), (2336, 1, 2813, 3.5), (2132.6, 2, 1775.5, 6), [1.0, 1.5, 2.0, 2.5, 3.0, 3.5], [2, 3, 4, 5, 6], g4_recurrent,
          'WHO grade IV (recurrent glioma)', 2286, 1714, 'R = 0.574, P = 3.34e-03', (2501, 1758), (2558, 2220.5), (2250, 1960))

# panel letters and gene names
T(12, 65, 'A', fontsize=48, fontweight='bold', ha='left', va='baseline')
T(1232, 65, 'B', fontsize=48, fontweight='bold', ha='left', va='baseline')
T(12, 1108, 'C', fontsize=48, fontweight='bold', ha='left', va='baseline')
T(1232, 231, 'FCGR3A', fontsize=32, fontweight='bold', ha='left', va='baseline')
T(1232, 795, 'FGL2', fontsize=32, fontweight='bold', ha='left', va='baseline')

fig.savefig('out.png', dpi=100)
